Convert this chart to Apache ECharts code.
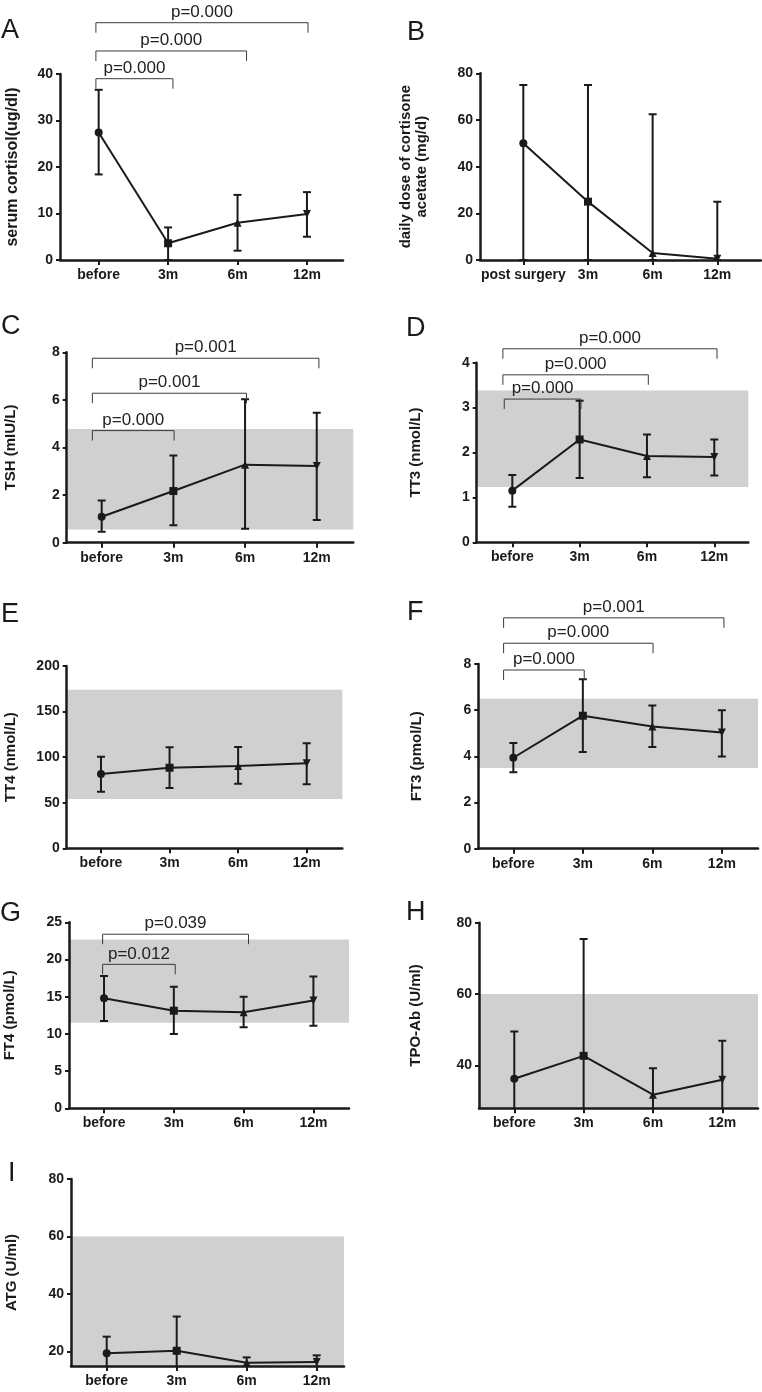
<!DOCTYPE html>
<html><head><meta charset="utf-8">
<script src="https://cdn.jsdelivr.net/npm/echarts@6/dist/echarts.min.js"></script>
<style>html,body{margin:0;padding:0;background:#fff}#c{width:762px;height:1392px}</style>
</head><body><div id="c"></div>
<script>
// ---------- categories ----------
const categories = ['before', '3m', '6m', '12m'];
const categoriesB = ['post surgery', '3m', '6m', '12m'];

// ---------- A: serum cortisol ----------
const cortisolMean  = [27.4, 3.6, 8.0, 9.9];
const cortisolUpper = [36.6, 7.0, 14.0, 14.6];
const cortisolLower = [18.4, 0.0, 2.0, 5.0];
const yTicksA = [0, 10, 20, 30, 40];
const bracketsA = [[-0.04, 1.07, 38.99], [-0.04, 2.13, 44.95], [-0.04, 3.015, 51.03]];
const pLabelsA = ['p=0.000', 'p=0.000', 'p=0.000'];

// ---------- B: cortisone acetate dose ----------
const doseMean  = [50, 25, 3, 0.5];
const doseUpper = [75, 75, 62.5, 25];
const doseLower = [0, 0, 0, 0];
const yTicksB = [0, 20, 40, 60, 80];

// ---------- C: TSH ----------
const tshMean  = [1.09, 2.17, 3.28, 3.22];
const tshUpper = [1.77, 3.66, 6.03, 5.46];
const tshLower = [0.46, 0.73, 0.59, 0.95];
const tshRange = [0.55, 4.78];
const yTicksC = [0, 2, 4, 6, 8];
const bracketsC = [[-0.13, 1.01, 4.71], [-0.13, 2.02, 6.28], [-0.13, 3.03, 7.75]];
const pLabelsC = ['p=0.000', 'p=0.001', 'p=0.001'];

// ---------- D: TT3 ----------
const tt3Mean  = [1.15, 2.29, 1.92, 1.90];
const tt3Upper = [1.50, 3.15, 2.40, 2.29];
const tt3Lower = [0.79, 1.43, 1.45, 1.49];
const tt3Range = [1.23, 3.38];
const yTicksD = [0, 1, 2, 3, 4];
const bracketsD = [[-0.12, 1.02, 3.19], [-0.14, 2.02, 3.73], [-0.14, 3.04, 4.31]];
const pLabelsD = ['p=0.000', 'p=0.000', 'p=0.000'];

// ---------- E: TT4 ----------
const tt4Mean  = [81.5, 88.4, 90.3, 93.2];
const tt4Upper = [100.5, 110.8, 111.1, 115.2];
const tt4Lower = [62.0, 66.1, 70.9, 70.2];
const tt4Range = [54, 174];
const yTicksE = [0, 50, 100, 150, 200];

// ---------- F: FT3 ----------
const ft3Mean  = [3.94, 5.76, 5.29, 5.03];
const ft3Upper = [4.58, 7.34, 6.20, 6.00];
const ft3Lower = [3.31, 4.19, 4.41, 3.99];
const ft3Range = [3.5, 6.5];
const yTicksF = [0, 2, 4, 6, 8];
const bracketsF = [[-0.14, 1.02, 7.74], [-0.14, 2.01, 8.9], [-0.14, 3.03, 10.0]];
const pLabelsF = ['p=0.000', 'p=0.000', 'p=0.001'];

// ---------- G: FT4 ----------
const ft4Mean  = [14.78, 13.12, 12.9, 14.5];
const ft4Upper = [17.78, 16.35, 15.0, 17.7];
const ft4Lower = [11.73, 9.99, 10.9, 11.1];
const ft4Range = [11.5, 22.7];
const yTicksG = [0, 5, 10, 15, 20, 25];
const bracketsG = [[-0.02, 1.02, 19.35], [-0.02, 2.07, 23.4]];
const pLabelsG = ['p=0.012', 'p=0.039'];

// ---------- H: TPO-Ab ----------
const tpoMean  = [36.3, 42.7, 31.8, 36.0];
const tpoUpper = [49.5, 75.4, 39.2, 46.9];
const tpoLower = [23.1, 10.0, 24.4, 25.1];
const tpoRange = [28, 60];
const yTicksH = [40, 60, 80];

// ---------- I: ATG ----------
const atgMean  = [19.4, 20.3, 16.1, 16.4];
const atgUpper = [25.2, 32.2, 18.0, 18.7];
const atgLower = [13.6, 8.4, 14.2, 14.1];
const atgRange = [15, 60];
const yTicksI = [20, 40, 60, 80];

// ---------- panel definitions (data only) ----------
const panels = [
  {key:'A', cats:categories,  mean:cortisolMean, upper:cortisolUpper, lower:cortisolLower, yTicks:yTicksA, yMin:0,  yMax:40,  band:null,     brackets:bracketsA, pLabels:pLabelsA, yName:'serum cortisol(ug/dl)'},
  {key:'B', cats:categoriesB, mean:doseMean,     upper:doseUpper,     lower:doseLower,     yTicks:yTicksB, yMin:0,  yMax:80,  band:null,     brackets:[],        pLabels:[],       yName:'daily dose of cortisone\nacetate (mg/d)'},
  {key:'C', cats:categories,  mean:tshMean,      upper:tshUpper,      lower:tshLower,      yTicks:yTicksC, yMin:0,  yMax:8,   band:tshRange, brackets:bracketsC, pLabels:pLabelsC, yName:'TSH (mIU/L)'},
  {key:'D', cats:categories,  mean:tt3Mean,      upper:tt3Upper,      lower:tt3Lower,      yTicks:yTicksD, yMin:0,  yMax:4,   band:tt3Range, brackets:bracketsD, pLabels:pLabelsD, yName:'TT3 (nmol/L)'},
  {key:'E', cats:categories,  mean:tt4Mean,      upper:tt4Upper,      lower:tt4Lower,      yTicks:yTicksE, yMin:0,  yMax:200, band:tt4Range, brackets:[],        pLabels:[],       yName:'TT4 (nmol/L)'},
  {key:'F', cats:categories,  mean:ft3Mean,      upper:ft3Upper,      lower:ft3Lower,      yTicks:yTicksF, yMin:0,  yMax:8,   band:ft3Range, brackets:bracketsF, pLabels:pLabelsF, yName:'FT3 (pmol/L)'},
  {key:'G', cats:categories,  mean:ft4Mean,      upper:ft4Upper,      lower:ft4Lower,      yTicks:yTicksG, yMin:0,  yMax:25,  band:ft4Range, brackets:bracketsG, pLabels:pLabelsG, yName:'FT4 (pmol/L)'},
  {key:'H', cats:categories,  mean:tpoMean,      upper:tpoUpper,      lower:tpoLower,      yTicks:yTicksH, yMin:28, yMax:80,  band:tpoRange, brackets:[],        pLabels:[],       yName:'TPO-Ab (U/ml)'},
  {key:'I', cats:categories,  mean:atgMean,      upper:atgUpper,      lower:atgLower,      yTicks:yTicksI, yMin:15, yMax:80,  band:atgRange, brackets:[],        pLabels:[],       yName:'ATG (U/ml)'}
];

// ---------- layout (positions / sizes) ----------
const layout = {
  A:{left:60,    top:74,    width:283,   height:186,   xMin:-0.557, xMax:3.519, nameGap:39, nameSize:16, letter:[1,31]},
  B:{left:480,   top:73.3,  width:281,   height:186.7, xMin:-0.67,  xMax:3.676, nameGap:50, nameSize:15, letter:[407,33]},
  C:{left:66.7,  top:352.3, width:286.6, height:190.4, xMin:-0.488, xMax:3.51,  nameGap:48, nameSize:15, letter:[1,327]},
  D:{left:476.7, top:362.7, width:271.6, height:179.6, xMin:-0.529, xMax:3.505, nameGap:53, nameSize:15, letter:[406,329]},
  E:{left:66.7,  top:666,   width:275.6, height:182.3, xMin:-0.5,   xMax:3.519, nameGap:48, nameSize:15, letter:[1,614.5]},
  F:{left:478.3, top:664,   width:279.7, height:184.7, xMin:-0.504, xMax:3.52,  nameGap:53, nameSize:15, letter:[407,613]},
  G:{left:69,    top:922.3, width:280,   height:186,   xMin:-0.502, xMax:3.51,  nameGap:51, nameSize:15, letter:[0,913.5]},
  H:{left:479,   top:922.7, width:279,   height:185.6, xMin:-0.509, xMax:3.515, nameGap:55, nameSize:15, letter:[406,913]},
  I:{left:71,    top:1179,  width:273,   height:187,   xMin:-0.51,  xMax:3.39,  nameGap:51, nameSize:15, letter:[8,1173.5]}
};

// ---------- styles ----------
const INK = '#1a1a1a';
const SANS = '"Liberation Sans", Arial, sans-serif';
const P_FONT = '17px "Liberation Sans", Arial, sans-serif';
const BAND_COLOR = '#d0d0d0';
const SYMBOLS = ['circle', 'rect', 'triangle', 'triangle'];
const SYMBOL_ROT = [0, 0, 0, 180];
const CAP = 4;

const chart = echarts.init(document.getElementById('c'), null, {renderer:'canvas'});

const grids = [], xAxes = [], yAxes = [], series = [], graphics = [];

panels.forEach((p, i) => {
  const L = layout[p.key];
  grids.push({left:L.left, top:L.top, width:L.width, height:L.height, containLabel:false});
  const catIdx = p.cats.map((c, k) => k);
  xAxes.push({
    gridIndex:i, type:'value', min:L.xMin, max:L.xMax, z:10,
    axisLine:{show:true, onZero:false, lineStyle:{color:INK, width:2.5}},
    axisTick:{show:true, customValues:catIdx, length:5, lineStyle:{color:INK, width:2}},
    axisLabel:{customValues:catIdx, formatter:(v) => p.cats[Math.round(v)], margin:8,
      fontFamily:SANS, fontWeight:'bold', fontSize:14, color:INK},
    splitLine:{show:false}
  });
  yAxes.push({
    gridIndex:i, type:'value', min:p.yMin, max:p.yMax, z:10,
    name:p.yName, nameLocation:'middle', nameGap:L.nameGap,
    nameTextStyle:{fontFamily:SANS, fontWeight:'bold', fontSize:L.nameSize, color:INK, lineHeight:16, align:'center'},
    axisLine:{show:true, onZero:false, lineStyle:{color:INK, width:2.5}},
    axisTick:{show:true, customValues:p.yTicks, length:4, lineStyle:{color:INK, width:2}},
    axisLabel:{customValues:p.yTicks, margin:7, fontFamily:SANS, fontWeight:'bold', fontSize:14, color:INK},
    splitLine:{show:false}
  });

  if (p.band) {
    series.push({
      type:'custom', xAxisIndex:i, yAxisIndex:i, z:1, silent:true, clip:true,
      data:[[0, p.band[0], p.band[1]]],
      renderItem:(params, api) => {
        const cs = params.coordSys;
        const hi = api.coord([0, api.value(2)]);
        const lo = api.coord([0, api.value(1)]);
        return {type:'rect', shape:{x:cs.x, y:hi[1], width:cs.width, height:lo[1]-hi[1]},
                style:{fill:BAND_COLOR}};
      }
    });
  }

  // error bars
  series.push({
    type:'custom', xAxisIndex:i, yAxisIndex:i, z:3, silent:true, clip:true,
    data:p.mean.map((m, k) => [k, p.lower[k], p.upper[k]]),
    renderItem:(params, api) => {
      const x = api.value(0);
      const lo = api.coord([x, api.value(1)]);
      const hi = api.coord([x, api.value(2)]);
      const st = {stroke:INK, lineWidth:2};
      return {type:'group', children:[
        {type:'line', shape:{x1:lo[0], y1:lo[1], x2:hi[0], y2:hi[1]}, style:st},
        {type:'line', shape:{x1:hi[0]-CAP, y1:hi[1], x2:hi[0]+CAP, y2:hi[1]}, style:st},
        {type:'line', shape:{x1:lo[0]-CAP, y1:lo[1], x2:lo[0]+CAP, y2:lo[1]}, style:st}
      ]};
    }
  });

  // mean line with markers
  series.push({
    type:'line', xAxisIndex:i, yAxisIndex:i, z:4, silent:true, animation:false,
    lineStyle:{color:INK, width:2}, itemStyle:{color:INK}, symbolSize:8,
    data:p.mean.map((m, k) => ({value:[k, m], symbol:SYMBOLS[k], symbolRotate:SYMBOL_ROT[k]}))
  });

  // significance brackets
  if (p.brackets.length) {
    series.push({
      type:'custom', xAxisIndex:i, yAxisIndex:i, z:5, silent:true, clip:false,
      data:p.brackets,
      renderItem:(params, api) => {
        const y = api.value(2);
        const a = api.coord([api.value(0), y]);
        const b = api.coord([api.value(1), y]);
        const leg = 10;
        return {type:'group', children:[
          {type:'polyline', shape:{points:[[a[0], a[1]+leg], [a[0], a[1]], [b[0], b[1]], [b[0], b[1]+leg]]},
           style:{stroke:'#3a3a3a', lineWidth:1, fill:null}},
          {type:'text', x:(a[0]+b[0])/2, y:a[1]-2,
           style:{text:p.pLabels[params.dataIndex], font:P_FONT, fill:'#222',
                  align:'center', verticalAlign:'bottom', textAlign:'center', textVerticalAlign:'bottom'}}
        ]};
      }
    });
  }

  graphics.push({
    type:'text', x:L.letter[0], y:L.letter[1],
    style:{text:p.key, font:'27px "Liberation Sans", Arial, sans-serif', fill:INK,
           align:'left', verticalAlign:'middle', textAlign:'left', textVerticalAlign:'middle'}
  });
});

chart.setOption({
  backgroundColor:'#ffffff',
  animation:false,
  grid:grids, xAxis:xAxes, yAxis:yAxes, series:series, graphic:graphics
});
</script>
</body></html>
